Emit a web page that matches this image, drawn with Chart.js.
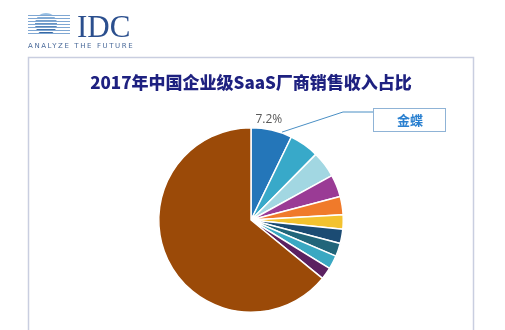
<!DOCTYPE html>
<html><head><meta charset="utf-8">
<script src="https://cdn.jsdelivr.net/npm/chart.js@4/dist/chart.umd.min.js"></script>
<style>html,body{margin:0;padding:0;background:#fff;}#wrap{width:505px;height:330px;position:relative;}</style>
</head><body><div id="wrap"><canvas id="c" width="505" height="330"></canvas></div>
<script>
const titleText = '2017年中国企业级SaaS厂商销售收入占比';
const vendors = ['金蝶','厂商B','厂商C','厂商D','厂商E','厂商F','厂商G','厂商H','厂商I','厂商J','其他'];
const shares = [7.2, 5.2, 4.6, 3.9, 3.2, 2.5, 2.5, 2.3, 2.4, 2.1, 64.1];
const sliceColors = ['#2476b9','#38a9c9','#a2d7e2','#9a3b95','#f07a2a','#f3c22f','#1b4b73','#21657a','#3aa8c2','#5b2161','#9b4a08'];
const labelledIndex = 0;

const overlay = {
  id:'overlay',
  afterDraw(chart){
    const ctx = chart.ctx;
    ctx.save();
    // frame
    ctx.strokeStyle = '#c9cee0'; ctx.lineWidth = 1.5;
    ctx.strokeRect(28.5, 57.5, 445, 300);
    // logo globe
    ctx.save();
    ctx.beginPath(); ctx.arc(46, 24, 11, 0, Math.PI*2); ctx.clip();
    const g = ctx.createLinearGradient(46,13,46,35);
    g.addColorStop(0,'#9cc3e6'); g.addColorStop(1,'#2a5c9a');
    ctx.fillStyle = g; ctx.fillRect(30,10,35,30);
    ctx.restore();
    ctx.strokeStyle = '#7fa7d3'; ctx.lineWidth = 1;
    for (let y = 15; y <= 34; y += 3) {
      ctx.beginPath(); ctx.moveTo(28, y+0.5); ctx.lineTo(70, y+0.5); ctx.stroke();
    }
    ctx.fillStyle = '#fff';
    for (let y = 16; y <= 34; y += 3) { ctx.fillRect(34, y, 24, 1); }
    ctx.fillStyle = '#2b4f8e';
    ctx.font = '31px "Liberation Serif", serif';
    ctx.textBaseline = 'alphabetic'; ctx.textAlign = 'left';
    ctx.fillText('IDC', 77, 37);
    ctx.fillStyle = '#4a6a9a';
    ctx.font = '7px "DejaVu Sans", sans-serif';
    if (ctx.letterSpacing !== undefined) ctx.letterSpacing = '1.6px';
    ctx.fillText('ANALYZE THE FUTURE', 28, 48);
    if (ctx.letterSpacing !== undefined) ctx.letterSpacing = '0px';
    // title
    ctx.fillStyle = '#1e2180';
    ctx.font = '900 17px "Noto Sans CJK SC", sans-serif';
    ctx.textAlign = 'center'; ctx.textBaseline = 'middle';
    ctx.fillText(titleText, 251, 83);
    // label for labelled slice
    const arc = chart.getDatasetMeta(0).data[labelledIndex];
    const p = arc.getProps(['x','y','startAngle','endAngle','outerRadius'], true);
    const mid = (p.startAngle + p.endAngle)/2;
    const lx = p.x + Math.cos(mid)*(p.outerRadius+14);
    const ly = p.y + Math.sin(mid)*(p.outerRadius+14);
    ctx.fillStyle = '#595959';
    ctx.font = '12px "Open Sans", sans-serif';
    ctx.fillText(shares[labelledIndex].toFixed(1) + '%', lx - 6, ly + 3);
    const a2 = p.startAngle + (p.endAngle - p.startAngle)*0.75;
    const sx = p.x + Math.cos(a2)*(p.outerRadius+1);
    const sy = p.y + Math.sin(a2)*(p.outerRadius+1);
    ctx.strokeStyle = '#4a8fc4'; ctx.lineWidth = 1;
    ctx.beginPath(); ctx.moveTo(sx, sy); ctx.lineTo(343, 112); ctx.lineTo(373, 112); ctx.stroke();
    ctx.strokeStyle = '#8fb3d6';
    ctx.strokeRect(373.5, 108.5, 72, 23);
    ctx.fillStyle = '#2a80d0';
    ctx.font = 'bold 13px "Noto Sans CJK SC", sans-serif';
    ctx.fillText(vendors[labelledIndex], 410, 120);
    ctx.restore();
  }
};

new Chart(document.getElementById('c'), {
  type:'pie',
  data:{labels:vendors, datasets:[{data:shares, backgroundColor:sliceColors, borderColor:'#ffffff', borderWidth:1.5, hoverOffset:0}]},
  options:{
    responsive:false, animation:false,
    layout:{padding:{top:127, bottom:17, left:51, right:54}},
    plugins:{legend:{display:false}, tooltip:{enabled:false}, title:{display:false}},
  },
  plugins:[overlay]
});
</script></body></html>
